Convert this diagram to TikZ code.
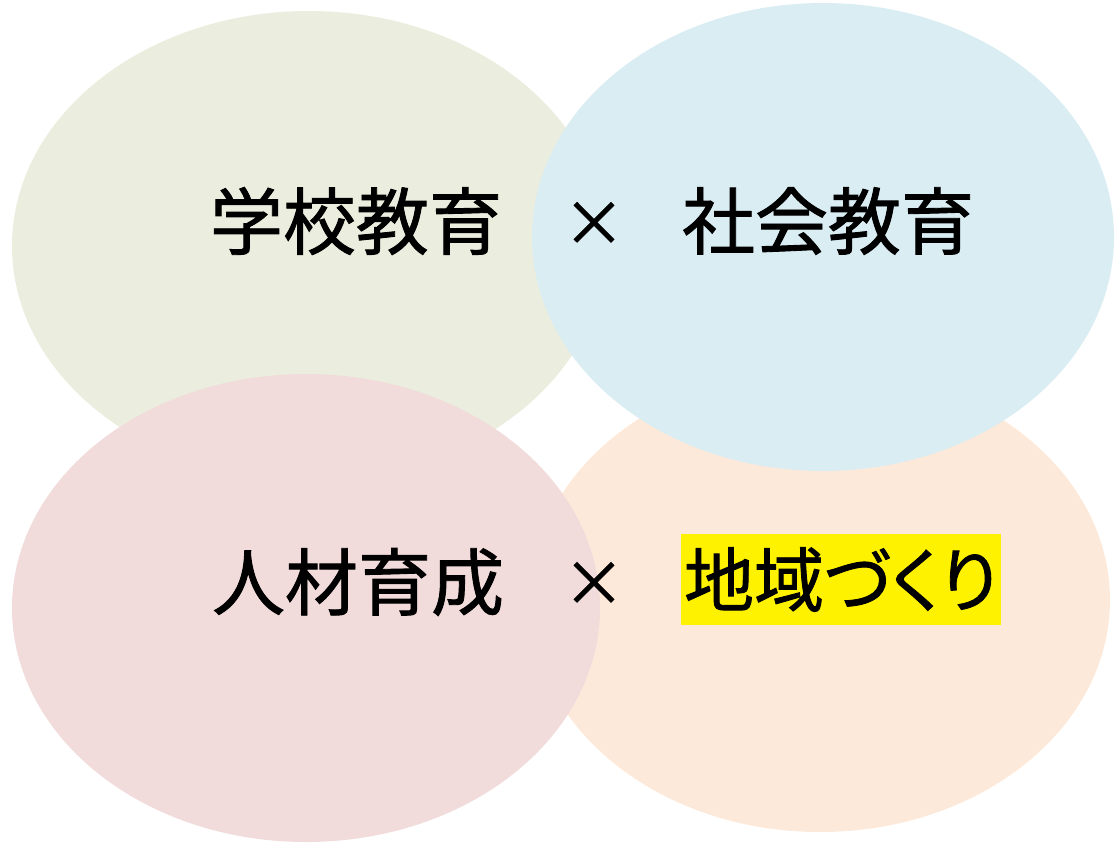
\documentclass[tikz,border=0pt]{standalone}
\usepackage{fontspec}
\newfontfamily\cjk[FakeBold=1.2]{Noto Sans CJK JP}
\newfontfamily\cjkp[FakeBold=1.2,RawFeature=+palt]{Noto Sans CJK JP}
\definecolor{cgreen}{HTML}{EBEEDE}
\definecolor{cblue}{HTML}{DAEDF3}
\definecolor{cpeach}{HTML}{FDE9D9}
\definecolor{cpink}{HTML}{F2DCDB}
\begin{document}
\begin{tikzpicture}[x=1pt,y=-1pt,
  blob/.style={draw=none},
  lbl/.style={font=\cjk\fontsize{73}{80}\selectfont, inner sep=0pt, text=black},
  lblp/.style={font=\cjkp\fontsize{70}{80}\selectfont, inner sep=0pt, text=black},
  times/.style={font=\cjk\fontsize{62}{70}\selectfont, inner sep=0pt, text=black}]
\useasboundingbox (0,0) rectangle (1115,843);
\fill[blob, cgreen] (309,246) ellipse [x radius=297, y radius=235];
\fill[blob, cpeach] (820,600) ellipse [x radius=290, y radius=232];
\fill[blob, cblue] (823,237) ellipse [x radius=291, y radius=234];
\fill[blob, cpink] (306,608) ellipse [x radius=294, y radius=234];
\node[lbl] (school) at (356,221) {学校教育};
\node[times] (x1) at (594,224) {×};
\node[lbl] (social) at (828,221) {社会教育};
\node[lbl] (human) at (358,582) {人材育成};
\node[times] (x2) at (594,584) {×};
\node[lblp, fill=yellow, minimum width=320, minimum height=91] (region) at (841,579.5) {地域づくり};
\end{tikzpicture}
\end{document}
